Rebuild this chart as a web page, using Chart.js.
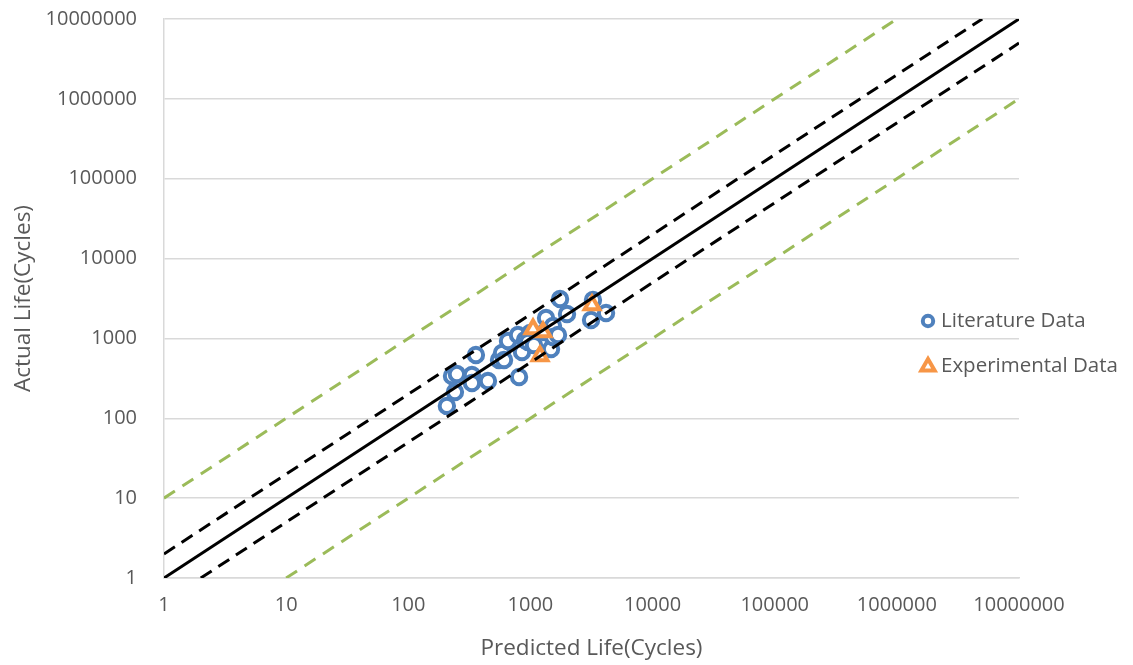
<!DOCTYPE html>
<html>
<head>
<meta charset="utf-8">
<script src="https://cdn.jsdelivr.net/npm/chart.js@4/dist/chart.umd.min.js"></script>
<style>
  html, body { margin: 0; padding: 0; background: #ffffff; }
  #wrap { width: 1133px; height: 665px; position: relative; }
</style>
</head>
<body>
<div id="wrap"><canvas id="c" width="1133" height="665"></canvas></div>
<script>
// ---- Data ----
const tickValues = [1, 10, 100, 1000, 10000, 100000, 1000000, 10000000];
const tickLabels = ["1", "10", "100", "1000", "10000", "100000", "1000000", "10000000"];

const literaturePredicted = [207, 241, 228, 250, 332, 332, 449, 358, 553, 585, 608, 655, 807, 791, 853, 903, 993, 955, 1069, 1342, 1393, 1316, 1475, 1530, 1530, 1682, 1748, 1993, 3135, 4160, 3251];
const literatureActual    = [143, 213, 338, 358, 348, 277, 293, 620, 537, 656, 537, 929, 329, 1105, 676, 955, 1169, 902, 827, 1803, 1239, 1203, 738, 1432, 1042, 1105, 3118, 2024, 1701, 2080, 3030];

const experimentalPredicted = [1050, 1198, 3192, 1268];
const experimentalActual    = [1312, 603, 2620, 1202];

// Reference lines (factor bands)
const lineEqualX   = [1, 10000000];
const lineEqualY   = [1, 10000000];
const lineUp2X     = [1, 5000000];
const lineUp2Y     = [2, 10000000];
const lineDown2X   = [2, 10000000];
const lineDown2Y   = [1, 5000000];
const lineUp10X    = [1, 1000000];
const lineUp10Y    = [10, 10000000];
const lineDown10X  = [10, 10000000];
const lineDown10Y  = [1, 1000000];

const seriesNames = ["Literature Data", "Experimental Data"];

// ---- Build ----
const zip = (xs, ys) => xs.map((x, i) => ({ x: x, y: ys[i] }));
const FONT = "'Open Sans', 'Liberation Sans', sans-serif";
const TEXT = "#595959";
const BLUE = "#4F81BD";
const ORANGE = "#F79646";
const GREEN = "#9BBB59";

function lineDs(xs, ys, color, dash) {
  return {
    type: "line",
    data: zip(xs, ys),
    borderColor: color,
    borderWidth: 3,
    borderDash: dash,
    pointRadius: 0,
    pointHoverRadius: 0,
    fill: false,
    showLine: true,
    order: 0
  };
}

const datasets = [
  lineDs(lineEqualX, lineEqualY, "#000000", []),
  lineDs(lineUp2X, lineUp2Y, "#000000", [13, 8]),
  lineDs(lineDown2X, lineDown2Y, "#000000", [13, 8]),
  lineDs(lineUp10X, lineUp10Y, GREEN, [13, 9]),
  lineDs(lineDown10X, lineDown10Y, GREEN, [13, 9]),
  {
    label: seriesNames[1],
    data: zip(experimentalPredicted, experimentalActual),
    pointStyle: "triangle",
    pointRadius: 8.5,
    pointBorderWidth: 4,
    pointBackgroundColor: "#ffffff",
    pointBorderColor: ORANGE,
    backgroundColor: "#ffffff",
    borderColor: ORANGE,
    showLine: false,
    order: 1
  },
  {
    label: seriesNames[0],
    data: zip(literaturePredicted, literatureActual),
    pointStyle: "circle",
    pointRadius: 7.2,
    pointBorderWidth: 4,
    pointBackgroundColor: "#ffffff",
    pointBorderColor: BLUE,
    backgroundColor: "#ffffff",
    borderColor: BLUE,
    showLine: false,
    order: 2
  }
];

const customLegend = {
  id: "customLegend",
  afterDraw(chart) {
    const ctx = chart.ctx;
    const items = [
      { name: seriesNames[0], color: BLUE, style: "circle", y: 321 },
      { name: seriesNames[1], color: ORANGE, style: "triangle", y: 366 }
    ];
    ctx.save();
    items.forEach(it => {
      const cx = 928, cy = it.y;
      ctx.lineWidth = 4;
      ctx.strokeStyle = it.color;
      ctx.fillStyle = "#ffffff";
      ctx.beginPath();
      if (it.style === "circle") {
        ctx.arc(cx, cy, 5.2, 0, Math.PI * 2);
      } else {
        const r = 7;
        ctx.moveTo(cx, cy - r);
        ctx.lineTo(cx + r * 0.95, cy + r * 0.65);
        ctx.lineTo(cx - r * 0.95, cy + r * 0.65);
        ctx.closePath();
      }
      ctx.fill();
      ctx.stroke();
      ctx.fillStyle = TEXT;
      ctx.font = "20.5px " + FONT;
      ctx.textBaseline = "middle";
      ctx.textAlign = "left";
      ctx.fillText(it.name, 941, cy);
    });
    ctx.restore();
  }
};

new Chart(document.getElementById("c"), {
  type: "scatter",
  data: { datasets: datasets },
  plugins: [customLegend],
  options: {
    responsive: false,
    animation: false,
    layout: { padding: { top: 19, right: 114, bottom: 0, left: 0 } },
    plugins: {
      legend: { display: false },
      tooltip: { enabled: false }
    },
    scales: {
      x: {
        type: "logarithmic",
        min: 1,
        max: 10000000,
        afterBuildTicks: s => { s.ticks = tickValues.map(v => ({ value: v })); },
        afterFit: s => { s.height = 87; s.paddingLeft = 0; s.paddingRight = 0; },
        ticks: {
          autoSkip: false,
          maxRotation: 0,
          padding: 15,
          color: TEXT,
          font: { family: FONT, size: 20 },
          callback: (v) => { const i = tickValues.indexOf(v); return i >= 0 ? tickLabels[i] : ""; }
        },
        grid: { display: false, drawTicks: false },
        border: { display: true, color: "#d9d9d9", width: 1.5 },
        title: {
          display: true,
          text: "Predicted Life(Cycles)",
          color: TEXT,
          font: { family: FONT, size: 22.5 },
          padding: { top: 0, bottom: 3 }
        }
      },
      y: {
        type: "logarithmic",
        min: 1,
        max: 10000000,
        afterBuildTicks: s => { s.ticks = tickValues.map(v => ({ value: v })); },
        afterFit: s => { s.width = 164; s.paddingTop = 0; s.paddingBottom = 0; },
        ticks: {
          autoSkip: false,
          padding: 27,
          color: TEXT,
          font: { family: FONT, size: 20 },
          callback: (v) => { const i = tickValues.indexOf(v); return i >= 0 ? tickLabels[i] : ""; }
        },
        grid: { display: true, drawTicks: false, color: "#d9d9d9", lineWidth: 1.5 },
        border: { display: true, color: "#d9d9d9", width: 1.5 },
        title: {
          display: true,
          text: "Actual Life(Cycles)",
          color: TEXT,
          font: { family: FONT, size: 22.5 },
          padding: { top: 10, bottom: 0 }
        }
      }
    }
  }
});
</script>
</body>
</html>
